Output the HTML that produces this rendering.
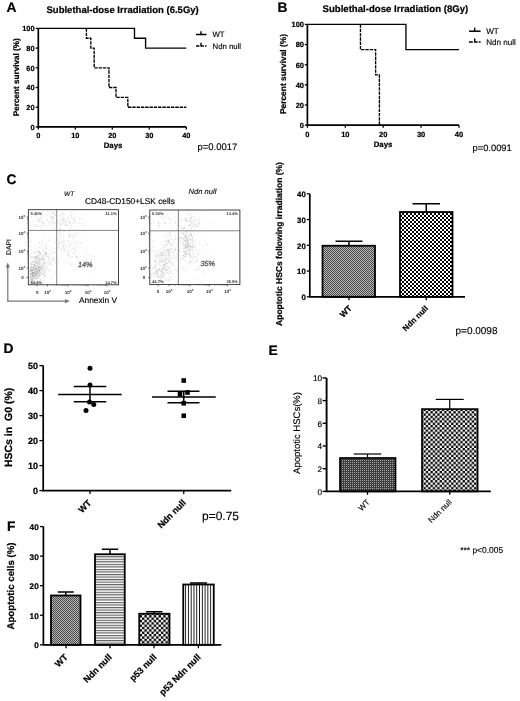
<!DOCTYPE html>
<html><head><meta charset="utf-8"><title>Figure</title>
<style>
html,body{margin:0;padding:0;background:#fff;}
body{width:520px;height:701px;overflow:hidden;font-family:"Liberation Sans", sans-serif;}
svg{display:block;font-family:"Liberation Sans", sans-serif;text-rendering:geometricPrecision;}
</style></head><body>
<svg width="520" height="701" viewBox="0 0 520 701">
<rect width="520" height="701" fill="#fff"/>
<defs>
<filter id="soft" x="0" y="0" width="520" height="701" filterUnits="userSpaceOnUse" color-interpolation-filters="sRGB"><feGaussianBlur stdDeviation="0.35"/></filter>
<pattern id="fine" width="2" height="2" patternUnits="userSpaceOnUse"><rect width="2" height="2" fill="#b4b4b4"/><rect x="0" y="0" width="1" height="1" fill="#4c4c4c"/><rect x="1" y="1" width="1" height="1" fill="#4c4c4c"/></pattern>
<pattern id="fineF" width="2" height="2" patternUnits="userSpaceOnUse"><rect width="2" height="2" fill="#e6e6e6"/><rect x="0" y="0" width="1" height="1" fill="#000"/><rect x="1" y="1" width="1" height="1" fill="#000"/></pattern>
<pattern id="chkC" x="402" y="215" width="4.0" height="4.0" patternUnits="userSpaceOnUse"><rect width="4.0" height="4.0" fill="#000"/><rect x="0.000" y="0.000" width="2.000" height="2.000" fill="#fff"/><rect x="2.000" y="2.000" width="2.000" height="2.000" fill="#fff"/></pattern>
<pattern id="chkE" x="423.55" y="411.15" width="4.6" height="4.6" patternUnits="userSpaceOnUse"><rect width="4.6" height="4.6" fill="#000"/><rect x="0.000" y="0.000" width="2.300" height="2.300" fill="#fff"/><rect x="2.300" y="2.300" width="2.300" height="2.300" fill="#fff"/></pattern>
<pattern id="chkF" x="142.0" y="615.1" width="4.73" height="4.73" patternUnits="userSpaceOnUse"><rect width="4.73" height="4.73" fill="#000"/><rect x="0.000" y="0.000" width="2.365" height="2.365" fill="#fff"/><rect x="2.365" y="2.365" width="2.365" height="2.365" fill="#fff"/></pattern>
<pattern id="grid" width="2" height="2" patternUnits="userSpaceOnUse"><rect width="2" height="2" fill="#3c3c3c"/><rect x="0" y="0" width="1" height="1" fill="#a8a8a8"/></pattern>
<pattern id="hl" x="0" y="556.2" width="2.54" height="2.54" patternUnits="userSpaceOnUse"><rect width="2.54" height="2.54" fill="#fff"/><rect x="0" y="0" width="2.54" height="0.75" fill="#383838"/><rect x="0" y="0.75" width="2.54" height="0.9" fill="#c4c4c4"/></pattern>
<pattern id="vl" x="183.3" y="0" width="2.78" height="2.78" patternUnits="userSpaceOnUse"><rect width="2.78" height="2.78" fill="#fff"/><rect x="1.9" y="0" width="0.85" height="2.78" fill="#000"/></pattern>
<filter id="soft2" x="0" y="0" width="520" height="701" filterUnits="userSpaceOnUse" color-interpolation-filters="sRGB"><feGaussianBlur stdDeviation="0.18"/></filter>
</defs>
<g filter="url(#soft2)">
<rect x="322.5" y="245.75" width="52.5" height="51.05000000000001" fill="url(#fine)" stroke="#000" stroke-width="1.8"/>
<rect x="400" y="212" width="52.5" height="84.80000000000001" fill="url(#chkC)" stroke="#000" stroke-width="1.8"/>
<rect x="340" y="458" width="55.5" height="33.39999999999998" fill="url(#grid)" stroke="#000" stroke-width="1.7"/>
<rect x="422" y="409.1" width="55.60000000000002" height="82.29999999999995" fill="url(#chkE)" stroke="#000" stroke-width="1.7"/>
<rect x="51" y="595.5" width="29.5" height="49.299999999999955" fill="url(#fine)" stroke="#000" stroke-width="1.8"/>
<rect x="95" y="554.25" width="29.75" height="90.54999999999995" fill="url(#hl)" stroke="#000" stroke-width="1.8"/>
<rect x="139.25" y="613.75" width="30.25" height="31.049999999999955" fill="url(#chkF)" stroke="#000" stroke-width="1.8"/>
<rect x="183.25" y="584.5" width="30.5" height="60.299999999999955" fill="url(#vl)" stroke="#000" stroke-width="1.8"/>
</g>
<g filter="url(#soft)">
<text x="6.6" y="12.3" font-size="13.8" font-weight="bold" text-anchor="start" fill="#000" stroke="#000" stroke-width="0.22">A</text>
<text x="46.5" y="12.6" font-size="9.53" font-weight="bold" text-anchor="start" fill="#000" stroke="#000" stroke-width="0.22">Sublethal-dose Irradiation (6.5Gy)</text>
<path d="M38.3,28.4 V126.9 H186.3" fill="none" stroke="#000" stroke-width="1.7"/>
<line x1="35.699999999999996" y1="126.9" x2="38.3" y2="126.9" stroke="#000" stroke-width="1.3"/>
<text x="34.599999999999994" y="129.6" font-size="7.4" font-weight="bold" text-anchor="end" fill="#000" stroke="#000" stroke-width="0.22">0</text>
<line x1="35.699999999999996" y1="107.2" x2="38.3" y2="107.2" stroke="#000" stroke-width="1.3"/>
<text x="34.599999999999994" y="109.9" font-size="7.4" font-weight="bold" text-anchor="end" fill="#000" stroke="#000" stroke-width="0.22">20</text>
<line x1="35.699999999999996" y1="87.5" x2="38.3" y2="87.5" stroke="#000" stroke-width="1.3"/>
<text x="34.599999999999994" y="90.2" font-size="7.4" font-weight="bold" text-anchor="end" fill="#000" stroke="#000" stroke-width="0.22">40</text>
<line x1="35.699999999999996" y1="67.8" x2="38.3" y2="67.8" stroke="#000" stroke-width="1.3"/>
<text x="34.599999999999994" y="70.5" font-size="7.4" font-weight="bold" text-anchor="end" fill="#000" stroke="#000" stroke-width="0.22">60</text>
<line x1="35.699999999999996" y1="48.1" x2="38.3" y2="48.1" stroke="#000" stroke-width="1.3"/>
<text x="34.599999999999994" y="50.800000000000004" font-size="7.4" font-weight="bold" text-anchor="end" fill="#000" stroke="#000" stroke-width="0.22">80</text>
<line x1="35.699999999999996" y1="28.4" x2="38.3" y2="28.4" stroke="#000" stroke-width="1.3"/>
<text x="34.599999999999994" y="31.099999999999998" font-size="7.4" font-weight="bold" text-anchor="end" fill="#000" stroke="#000" stroke-width="0.22">100</text>
<line x1="38.3" y1="126.9" x2="38.3" y2="129.5" stroke="#000" stroke-width="1.3"/>
<text x="38.3" y="138.1" font-size="7.4" font-weight="bold" text-anchor="middle" fill="#000" stroke="#000" stroke-width="0.22">0</text>
<line x1="75.3" y1="126.9" x2="75.3" y2="129.5" stroke="#000" stroke-width="1.3"/>
<text x="75.3" y="138.1" font-size="7.4" font-weight="bold" text-anchor="middle" fill="#000" stroke="#000" stroke-width="0.22">10</text>
<line x1="112.3" y1="126.9" x2="112.3" y2="129.5" stroke="#000" stroke-width="1.3"/>
<text x="112.3" y="138.1" font-size="7.4" font-weight="bold" text-anchor="middle" fill="#000" stroke="#000" stroke-width="0.22">20</text>
<line x1="149.3" y1="126.9" x2="149.3" y2="129.5" stroke="#000" stroke-width="1.3"/>
<text x="149.3" y="138.1" font-size="7.4" font-weight="bold" text-anchor="middle" fill="#000" stroke="#000" stroke-width="0.22">30</text>
<line x1="186.3" y1="126.9" x2="186.3" y2="129.5" stroke="#000" stroke-width="1.3"/>
<text x="186.3" y="138.1" font-size="7.4" font-weight="bold" text-anchor="middle" fill="#000" stroke="#000" stroke-width="0.22">40</text>
<text x="113" y="147.6" font-size="7.8" font-weight="bold" text-anchor="middle" fill="#000" stroke="#000" stroke-width="0.22">Days</text>
<text x="19.3" y="77.2" font-size="8.16" font-weight="bold" text-anchor="middle" fill="#000" stroke="#000" stroke-width="0.22" transform="rotate(-90 19.3 77.2)">Percent survival (%)</text>
<path d="M38.3,28.4 H134.5 V38.25 H145.6 V48.1 H186.3" fill="none" stroke="#000" stroke-width="1.35"/>
<path d="M86.4,28.4 V38.25 H90.84 V48.1 H94.17 V67.8 H108.97 V87.5 H116.0 V97.35 H127.84 V107.2 H186.3" fill="none" stroke="#000" stroke-width="1.35" stroke-dasharray="3.4,0.9"/>
<line x1="196" y1="34.5" x2="206.5" y2="34.5" stroke="#000" stroke-width="1.5"/>
<line x1="201" y1="34.5" x2="201" y2="31.3" stroke="#000" stroke-width="1.4"/>
<line x1="196" y1="46" x2="206.5" y2="46" stroke="#000" stroke-width="1.5" stroke-dasharray="3.4,1.1"/>
<line x1="201" y1="46" x2="201" y2="42.8" stroke="#000" stroke-width="1.4"/>
<text x="212.5" y="37.3" font-size="7.8" font-weight="normal" text-anchor="start" fill="#000" stroke="#000" stroke-width="0.15">WT</text>
<text x="212.5" y="48.8" font-size="7.8" font-weight="normal" text-anchor="start" fill="#000" stroke="#000" stroke-width="0.15">Ndn null</text>
<text x="197.5" y="149.5" font-size="9.5" font-weight="normal" text-anchor="start" fill="#000" stroke="#000" stroke-width="0.15">p=0.0017</text>
<text x="277.4" y="12.3" font-size="13.8" font-weight="bold" text-anchor="start" fill="#000" stroke="#000" stroke-width="0.22">B</text>
<text x="322.5" y="12.3" font-size="9.62" font-weight="bold" text-anchor="start" fill="#000" stroke="#000" stroke-width="0.22">Sublethal-dose Irradiation (8Gy)</text>
<path d="M307.4,24.4 V125.2 H459.0" fill="none" stroke="#000" stroke-width="1.7"/>
<line x1="304.79999999999995" y1="125.2" x2="307.4" y2="125.2" stroke="#000" stroke-width="1.3"/>
<text x="304.0" y="128.1" font-size="7.5" font-weight="bold" text-anchor="end" fill="#000" stroke="#000" stroke-width="0.22">0</text>
<line x1="304.79999999999995" y1="105.04" x2="307.4" y2="105.04" stroke="#000" stroke-width="1.3"/>
<text x="304.0" y="107.94000000000001" font-size="7.5" font-weight="bold" text-anchor="end" fill="#000" stroke="#000" stroke-width="0.22">20</text>
<line x1="304.79999999999995" y1="84.88" x2="307.4" y2="84.88" stroke="#000" stroke-width="1.3"/>
<text x="304.0" y="87.78" font-size="7.5" font-weight="bold" text-anchor="end" fill="#000" stroke="#000" stroke-width="0.22">40</text>
<line x1="304.79999999999995" y1="64.72" x2="307.4" y2="64.72" stroke="#000" stroke-width="1.3"/>
<text x="304.0" y="67.62" font-size="7.5" font-weight="bold" text-anchor="end" fill="#000" stroke="#000" stroke-width="0.22">60</text>
<line x1="304.79999999999995" y1="44.56" x2="307.4" y2="44.56" stroke="#000" stroke-width="1.3"/>
<text x="304.0" y="47.46" font-size="7.5" font-weight="bold" text-anchor="end" fill="#000" stroke="#000" stroke-width="0.22">80</text>
<line x1="304.79999999999995" y1="24.4" x2="307.4" y2="24.4" stroke="#000" stroke-width="1.3"/>
<text x="304.0" y="27.299999999999997" font-size="7.5" font-weight="bold" text-anchor="end" fill="#000" stroke="#000" stroke-width="0.22">100</text>
<line x1="307.4" y1="125.2" x2="307.4" y2="127.8" stroke="#000" stroke-width="1.3"/>
<text x="307.4" y="136.6" font-size="7.5" font-weight="bold" text-anchor="middle" fill="#000" stroke="#000" stroke-width="0.22">0</text>
<line x1="345.3" y1="125.2" x2="345.3" y2="127.8" stroke="#000" stroke-width="1.3"/>
<text x="345.3" y="136.6" font-size="7.5" font-weight="bold" text-anchor="middle" fill="#000" stroke="#000" stroke-width="0.22">10</text>
<line x1="383.2" y1="125.2" x2="383.2" y2="127.8" stroke="#000" stroke-width="1.3"/>
<text x="383.2" y="136.6" font-size="7.5" font-weight="bold" text-anchor="middle" fill="#000" stroke="#000" stroke-width="0.22">20</text>
<line x1="421.1" y1="125.2" x2="421.1" y2="127.8" stroke="#000" stroke-width="1.3"/>
<text x="421.1" y="136.6" font-size="7.5" font-weight="bold" text-anchor="middle" fill="#000" stroke="#000" stroke-width="0.22">30</text>
<line x1="459.0" y1="125.2" x2="459.0" y2="127.8" stroke="#000" stroke-width="1.3"/>
<text x="459.0" y="136.6" font-size="7.5" font-weight="bold" text-anchor="middle" fill="#000" stroke="#000" stroke-width="0.22">40</text>
<text x="383" y="146.5" font-size="7.8" font-weight="bold" text-anchor="middle" fill="#000" stroke="#000" stroke-width="0.22">Days</text>
<text x="286.4" y="74" font-size="8.4" font-weight="bold" text-anchor="middle" fill="#000" stroke="#000" stroke-width="0.22" transform="rotate(-90 286.4 74)">Percent survival (%)</text>
<path d="M307.4,24.4 H405.94 V49.6 H459.0" fill="none" stroke="#000" stroke-width="1.35"/>
<path d="M360.46,24.4 V49.6 H375.62 V74.8 H379.41 V125.2" fill="none" stroke="#000" stroke-width="1.35" stroke-dasharray="3.4,0.9"/>
<line x1="469" y1="31.2" x2="480.6" y2="31.2" stroke="#000" stroke-width="1.5"/>
<line x1="474.7" y1="31.2" x2="474.7" y2="27.8" stroke="#000" stroke-width="1.4"/>
<line x1="469" y1="42" x2="480.6" y2="42" stroke="#000" stroke-width="1.5" stroke-dasharray="3.8,1.1"/>
<line x1="474.7" y1="42" x2="474.7" y2="38.6" stroke="#000" stroke-width="1.4"/>
<text x="486.2" y="34" font-size="8.1" font-weight="normal" text-anchor="start" fill="#000" stroke="#000" stroke-width="0.15">WT</text>
<text x="486.2" y="44.8" font-size="8.1" font-weight="normal" text-anchor="start" fill="#000" stroke="#000" stroke-width="0.15">Ndn null</text>
<text x="472.5" y="150.8" font-size="9.35" font-weight="normal" text-anchor="start" fill="#000" stroke="#000" stroke-width="0.15">p=0.0091</text>
<text x="6.6" y="184.0" font-size="13.8" font-weight="bold" text-anchor="start" fill="#000" stroke="#000" stroke-width="0.22">C</text>
<text x="64" y="195.5" font-size="6.5" font-weight="normal" text-anchor="start" fill="#111" font-style="italic" stroke="#111" stroke-width="0.15">WT</text>
<text x="188.5" y="193.5" font-size="7.6" font-weight="normal" text-anchor="start" fill="#111" font-style="italic" stroke="#111" stroke-width="0.15">Ndn null</text>
<text x="85" y="204" font-size="8.37" font-weight="normal" text-anchor="start" fill="#000" stroke="#000" stroke-width="0.15">CD48-CD150+LSK cells</text>
<text x="79.0" y="302.5" font-size="8.33" font-weight="normal" text-anchor="start" fill="#000" stroke="#000" stroke-width="0.15">Annexin V</text>
<text x="10.9" y="247" font-size="6.8" font-weight="normal" text-anchor="middle" fill="#111" stroke="#111" stroke-width="0.15" transform="rotate(-90 10.9 247)">DAPI</text>
<path d="M7.8,301.2 V266" fill="none" stroke="#777" stroke-width="1.2"/>
<path d="M7.8,262.6 L5.7,267.4 L9.9,267.4 Z" fill="#777"/>
<path d="M7.2,301.2 H66" fill="none" stroke="#777" stroke-width="1.2"/>
<path d="M69.8,301.2 L65,299.1 L65,303.3 Z" fill="#777"/>
<rect x="28.3" y="209.7" width="90.2" height="75.10000000000002" fill="#fff" stroke="#222" stroke-width="0.85"/>
<line x1="56.7" y1="209.7" x2="56.7" y2="284.8" stroke="#222" stroke-width="0.55"/>
<line x1="28.3" y1="230.4" x2="118.5" y2="230.4" stroke="#222" stroke-width="0.55"/>
<path d="M34.7,272.1h.7M34.9,265.5h.7M31.3,266.3h.7M41.6,271.4h.7M41.2,270.0h.7M38.0,269.5h.7M38.5,272.0h.7M31.6,264.3h.7M37.5,267.6h.7M38.6,262.9h.7M37.5,271.2h.7M32.7,281.7h.7M38.8,277.6h.7M32.9,262.1h.7M34.3,267.1h.7M39.2,270.0h.7M33.8,260.3h.7M33.4,277.8h.7M32.0,270.0h.7M38.1,256.1h.7M36.2,278.4h.7M35.5,261.5h.7M38.5,267.5h.7M39.3,275.6h.7M43.2,270.9h.7M36.6,257.6h.7M39.1,263.1h.7M33.7,257.9h.7M31.2,263.8h.7M42.4,251.7h.7M43.2,272.6h.7M37.8,262.1h.7M30.4,275.8h.7M41.5,269.3h.7M37.2,271.5h.7M44.0,273.0h.7M38.6,272.4h.7M40.8,272.2h.7M40.2,253.5h.7M35.1,276.2h.7M29.4,280.9h.7M38.8,266.8h.7M37.6,273.2h.7M36.6,277.2h.7M32.7,264.7h.7M41.2,268.2h.7M31.6,275.6h.7M43.3,264.4h.7M35.3,265.6h.7M43.0,259.8h.7M42.3,257.9h.7M32.1,273.1h.7M41.6,274.9h.7M37.7,269.1h.7M36.8,272.6h.7M35.1,270.2h.7M38.9,268.0h.7M39.8,272.5h.7M46.1,270.6h.7M33.9,265.0h.7M35.9,275.4h.7M34.3,271.1h.7M45.2,247.5h.7M30.4,270.0h.7M38.0,269.9h.7M33.8,273.2h.7M37.4,263.8h.7M48.2,270.8h.7M33.2,267.2h.7M34.9,267.5h.7M41.0,258.7h.7M35.7,275.6h.7M40.3,279.9h.7M34.3,273.0h.7M41.5,246.5h.7M41.4,256.4h.7M39.4,256.1h.7M36.9,277.6h.7M35.3,269.5h.7M40.0,269.1h.7M35.6,280.3h.7M41.2,265.6h.7M49.7,258.8h.7M40.6,265.9h.7M36.7,273.6h.7M37.1,273.1h.7M39.1,260.3h.7M30.9,256.2h.7M42.3,274.0h.7M43.4,260.5h.7M36.0,258.9h.7M39.8,280.7h.7M31.5,280.5h.7M40.9,266.6h.7M35.5,263.2h.7M38.0,271.3h.7M43.5,259.8h.7M41.7,279.9h.7M43.3,266.6h.7M32.3,276.1h.7M36.6,269.0h.7M43.1,265.9h.7M37.6,263.1h.7M36.0,274.7h.7M36.4,278.6h.7M35.7,276.3h.7M43.5,280.9h.7M32.6,275.0h.7M29.8,267.9h.7M35.0,267.8h.7M33.0,269.9h.7M45.0,268.4h.7M38.7,276.0h.7M35.0,257.9h.7M33.2,276.6h.7M41.0,274.3h.7M36.0,274.4h.7M36.8,258.6h.7M40.6,263.5h.7M31.5,261.8h.7M30.1,270.9h.7M32.8,252.5h.7M39.6,265.8h.7M37.5,264.3h.7M39.9,274.0h.7M39.3,270.6h.7M42.7,273.3h.7M38.3,251.3h.7M40.5,278.5h.7M34.5,264.2h.7M45.7,253.9h.7M31.4,273.5h.7M45.4,267.0h.7M38.8,275.2h.7M31.5,267.3h.7M37.5,274.6h.7M35.8,266.4h.7M30.9,265.1h.7M40.5,268.8h.7M31.7,261.3h.7M49.3,277.1h.7M39.2,247.3h.7M39.1,271.8h.7M44.4,271.4h.7M35.7,272.2h.7M37.6,262.4h.7M42.6,282.5h.7M37.5,269.5h.7M34.0,260.2h.7M46.6,276.3h.7M30.0,257.2h.7M44.5,275.9h.7M45.1,274.5h.7M31.6,270.1h.7M35.7,272.2h.7M32.4,267.0h.7M38.3,271.0h.7M39.2,269.7h.7M34.4,274.3h.7M36.2,261.4h.7M32.9,268.0h.7M35.5,269.3h.7M36.0,269.4h.7M35.3,257.9h.7M38.1,276.4h.7M38.2,266.5h.7M38.2,260.3h.7M31.3,273.9h.7M30.6,247.0h.7M30.8,280.6h.7M34.1,257.0h.7M32.2,272.2h.7M38.5,269.4h.7M43.4,273.7h.7M35.9,272.8h.7M44.3,275.8h.7M41.1,259.3h.7M35.3,273.8h.7M34.5,276.6h.7M39.0,275.3h.7M42.2,266.3h.7M34.3,275.0h.7M40.9,268.1h.7M30.2,269.5h.7M37.8,277.0h.7M39.9,268.2h.7M40.3,272.3h.7M37.0,268.4h.7M34.8,273.5h.7M30.7,263.0h.7M36.0,256.3h.7M33.8,251.9h.7M32.6,272.5h.7M38.8,267.6h.7M34.8,256.7h.7M45.1,272.1h.7M41.5,260.9h.7M35.1,253.4h.7M39.9,275.5h.7M39.2,253.9h.7M32.9,256.8h.7M36.2,270.0h.7M39.2,273.6h.7M43.5,277.3h.7M29.4,264.0h.7M30.7,259.4h.7M35.6,268.0h.7M38.5,255.3h.7M29.8,267.8h.7M35.0,265.5h.7M35.7,261.9h.7M39.5,270.8h.7M35.6,262.6h.7M35.1,246.2h.7M31.1,268.3h.7M36.7,257.0h.7M34.7,265.5h.7M38.3,272.9h.7M35.8,261.2h.7M35.3,267.5h.7M39.7,270.4h.7M32.4,257.2h.7M34.1,262.1h.7M30.4,267.1h.7M33.5,268.8h.7M38.6,264.7h.7M47.6,265.4h.7M41.5,269.0h.7M41.6,249.0h.7M32.2,270.0h.7M37.6,278.2h.7M39.8,275.6h.7M38.6,266.8h.7M38.5,259.4h.7M41.9,259.9h.7M34.9,268.2h.7M41.8,268.2h.7M32.0,270.1h.7M38.9,273.7h.7M32.1,282.0h.7M44.3,268.1h.7M37.3,264.6h.7M43.1,262.4h.7M39.4,264.2h.7M32.5,273.7h.7M42.7,267.9h.7M32.6,274.5h.7M35.8,270.5h.7M43.6,277.1h.7M36.0,274.3h.7M32.8,267.6h.7M42.8,258.3h.7M41.9,264.3h.7M35.7,265.5h.7M35.4,259.3h.7M36.1,256.5h.7M35.6,270.5h.7M38.3,266.1h.7M31.5,269.3h.7M33.6,280.5h.7M39.8,267.1h.7M33.6,262.4h.7M31.3,265.2h.7M37.5,272.1h.7M32.5,268.1h.7M50.0,253.1h.7M33.4,269.4h.7M36.8,271.3h.7M34.8,270.9h.7M36.3,274.2h.7M36.0,259.7h.7M30.8,273.0h.7M32.8,273.1h.7M39.7,270.5h.7M38.5,267.2h.7M38.3,263.8h.7M35.5,274.0h.7M31.6,273.1h.7M45.3,263.6h.7M36.7,266.8h.7M43.7,270.5h.7M40.5,262.5h.7M35.9,267.9h.7M40.5,254.0h.7M39.7,267.0h.7M38.2,270.9h.7M43.5,263.4h.7M30.9,257.1h.7M37.1,276.6h.7M30.4,270.0h.7M33.6,277.3h.7M32.9,275.5h.7M30.4,276.8h.7M31.6,273.5h.7M30.9,280.3h.7M36.2,271.8h.7M34.5,269.5h.7M32.2,278.5h.7M36.5,271.7h.7M31.8,275.2h.7M30.0,276.2h.7M32.1,275.6h.7M30.4,279.3h.7M31.2,270.4h.7M33.4,264.6h.7M30.0,273.9h.7M34.5,273.0h.7M32.9,270.1h.7M30.1,274.1h.7M32.5,280.1h.7M33.8,278.8h.7M32.6,275.5h.7M34.8,276.2h.7M37.0,266.6h.7M30.9,253.3h.7M34.4,271.8h.7M32.0,272.5h.7M30.5,269.0h.7M30.1,277.8h.7M32.1,274.4h.7M31.5,279.5h.7M33.5,273.1h.7M34.0,273.1h.7M33.4,268.3h.7M35.2,276.1h.7M33.0,279.3h.7M32.6,273.1h.7M32.1,272.3h.7M33.1,274.5h.7M34.0,271.8h.7M31.9,261.2h.7M30.7,278.1h.7M36.0,271.8h.7M31.6,283.5h.7M31.0,278.4h.7M37.0,274.2h.7M35.7,269.7h.7M32.6,273.5h.7M32.3,280.8h.7M39.2,270.0h.7M30.3,277.0h.7M33.7,272.3h.7M33.6,264.7h.7M34.3,264.7h.7M29.9,270.7h.7M30.8,279.2h.7M32.2,271.6h.7M33.6,283.5h.7M32.0,276.2h.7M35.7,275.6h.7M38.6,262.1h.7M31.9,276.5h.7M34.9,278.0h.7M31.2,267.7h.7M32.3,280.2h.7M31.9,262.4h.7M31.2,271.4h.7M33.4,269.8h.7M29.4,271.6h.7M31.9,270.0h.7M32.0,278.5h.7M29.6,271.5h.7M29.8,273.8h.7M33.6,265.8h.7M33.4,273.8h.7M35.6,262.8h.7M34.4,275.3h.7M33.4,276.6h.7M35.9,272.7h.7M34.6,271.5h.7M34.2,269.1h.7M33.3,273.1h.7M32.6,279.6h.7M33.3,277.1h.7M31.9,282.1h.7M30.8,270.7h.7M34.7,274.4h.7M31.2,270.5h.7M31.2,277.7h.7M33.1,266.7h.7M33.3,275.1h.7M31.2,272.0h.7M34.4,281.9h.7M29.9,276.6h.7M30.5,281.2h.7M30.1,278.9h.7M38.7,258.8h.7M30.7,277.0h.7M31.7,270.0h.7M38.5,274.5h.7M30.3,274.9h.7M35.8,274.7h.7M35.5,278.4h.7M29.6,279.2h.7M33.5,277.9h.7M34.7,278.4h.7M34.6,259.3h.7M32.5,277.0h.7M39.7,268.3h.7M31.0,274.2h.7M50.2,254.5h.7M52.0,251.7h.7M45.9,253.8h.7M45.1,252.5h.7M32.8,266.7h.7M46.1,253.5h.7M45.4,265.9h.7M37.2,257.1h.7M47.8,262.2h.7M41.7,241.1h.7M52.7,260.6h.7M44.1,255.8h.7M45.8,254.6h.7M36.8,252.1h.7M39.8,253.1h.7M35.9,263.1h.7M34.8,263.3h.7M36.9,260.8h.7M53.6,259.6h.7M38.9,258.4h.7M45.0,244.1h.7M39.7,259.3h.7M40.7,258.6h.7M49.1,264.1h.7M50.3,262.7h.7M42.0,257.9h.7M42.1,255.5h.7M42.7,244.2h.7M41.7,257.8h.7M37.2,257.8h.7M47.6,256.7h.7M58.5,237.1h.7M42.6,243.4h.7M50.9,279.2h.7M47.6,255.6h.7M47.9,240.1h.7M50.0,261.0h.7M44.2,253.3h.7M48.5,254.1h.7M45.6,253.9h.7M45.4,264.0h.7M37.9,257.7h.7M48.3,259.2h.7M52.7,273.9h.7M37.6,242.6h.7M50.0,270.2h.7M50.5,264.5h.7M39.7,252.3h.7M50.2,250.7h.7M31.3,250.0h.7M61.4,273.4h.7M39.2,252.2h.7M45.6,252.0h.7M53.2,257.4h.7M36.4,268.5h.7M39.9,259.8h.7M43.9,255.5h.7M46.3,252.5h.7M31.1,240.3h.7M35.1,251.9h.7M43.8,258.4h.7M47.9,259.0h.7M38.4,252.3h.7M47.4,262.2h.7M43.2,256.6h.7M50.6,258.1h.7M49.2,262.7h.7M45.5,268.5h.7M40.0,255.1h.7M38.3,251.6h.7M54.9,272.1h.7M44.2,262.5h.7M52.2,264.5h.7M52.4,247.9h.7M39.5,261.6h.7M54.0,258.8h.7M38.0,255.2h.7M39.4,251.1h.7M54.5,253.0h.7M44.1,275.3h.7M52.3,260.7h.7M39.7,261.3h.7M55.4,263.0h.7M52.8,258.8h.7M47.6,256.4h.7M47.0,268.4h.7M34.0,257.5h.7M45.7,253.4h.7M41.8,264.3h.7M58.0,263.0h.7M46.3,245.6h.7M57.5,258.6h.7M43.8,249.1h.7M43.6,249.2h.7M44.5,261.7h.7M44.2,260.2h.7M38.0,269.4h.7M39.4,243.5h.7M42.7,251.9h.7M36.9,255.2h.7M46.0,248.5h.7M43.0,269.4h.7M48.8,256.8h.7M44.9,257.0h.7M43.7,263.9h.7M43.4,238.8h.7M43.8,250.9h.7M67.8,217.6h.7M61.8,228.7h.7M47.4,215.5h.7M37.5,221.5h.7M52.3,212.5h.7M42.2,222.5h.7M50.7,218.5h.7M64.0,225.4h.7M83.3,224.1h.7M61.7,220.7h.7M81.6,225.7h.7M56.3,221.8h.7M63.4,220.2h.7M54.0,214.7h.7M53.6,213.8h.7M74.7,222.1h.7M45.5,225.6h.7M70.7,212.4h.7M82.1,223.2h.7M84.8,215.1h.7M66.4,221.7h.7M62.4,220.7h.7M72.6,214.0h.7M45.1,214.4h.7M53.3,217.6h.7M64.4,221.1h.7M60.4,217.3h.7M54.7,223.8h.7M69.2,220.4h.7M56.1,226.2h.7M52.9,222.6h.7M73.8,218.9h.7M69.9,215.5h.7M72.2,220.8h.7M41.0,222.7h.7M49.3,225.1h.7M51.9,219.3h.7M63.4,218.7h.7M63.1,217.8h.7M68.1,220.0h.7M73.9,220.1h.7M38.6,220.4h.7M65.6,224.3h.7M47.0,226.2h.7M58.1,229.6h.7M58.2,222.7h.7M55.6,215.5h.7M73.2,223.6h.7M78.5,223.4h.7M53.1,213.4h.7M52.2,217.3h.7M50.2,222.3h.7M63.9,218.9h.7M62.1,219.4h.7M62.6,223.0h.7M71.5,217.3h.7M41.9,225.7h.7M61.4,224.4h.7M40.3,218.7h.7M60.3,214.2h.7M53.8,222.9h.7M72.9,226.4h.7M49.6,214.4h.7M66.2,223.8h.7M62.3,214.8h.7M69.4,223.2h.7M66.6,218.1h.7M63.6,223.2h.7M53.3,212.6h.7M63.9,221.9h.7M60.2,223.6h.7M53.0,219.7h.7M56.3,222.3h.7M79.1,219.0h.7M84.7,226.1h.7M69.5,222.3h.7M81.2,219.3h.7M58.7,215.7h.7M65.7,225.4h.7M66.4,221.7h.7M57.6,220.7h.7M42.9,224.2h.7M55.1,215.6h.7M51.0,216.7h.7M70.3,224.2h.7M43.7,223.7h.7M70.7,217.7h.7M42.2,217.0h.7M52.4,221.4h.7M55.7,211.9h.7M62.8,213.9h.7M70.9,215.2h.7M51.7,216.6h.7M53.5,225.2h.7M70.2,222.4h.7M63.8,213.8h.7M53.8,217.8h.7M48.3,222.0h.7M51.1,217.2h.7M47.5,211.8h.7M67.1,225.3h.7M62.1,216.1h.7M74.6,221.2h.7M71.1,225.9h.7M73.5,218.2h.7M72.6,223.1h.7M41.6,218.4h.7M57.5,241.1h.7M69.5,233.5h.7M53.7,252.4h.7M68.3,253.8h.7M58.1,250.5h.7M78.4,258.1h.7M64.7,244.2h.7M65.1,250.0h.7M72.2,242.7h.7M57.8,247.9h.7M63.2,247.0h.7M67.6,255.0h.7M72.8,238.4h.7M68.1,256.1h.7M62.8,245.5h.7M73.1,252.1h.7M69.1,231.4h.7M58.4,244.0h.7M68.3,262.4h.7M60.8,251.1h.7M70.6,228.6h.7M61.1,243.3h.7M63.0,240.8h.7M68.8,235.5h.7M68.8,236.9h.7M62.7,246.3h.7M62.6,244.3h.7M75.6,242.2h.7M65.1,247.9h.7M63.8,250.7h.7M58.3,246.9h.7M62.9,235.6h.7M76.6,235.2h.7M76.5,247.3h.7M74.7,234.2h.7M73.2,253.7h.7M65.3,241.0h.7M80.7,243.4h.7M63.5,237.0h.7M68.7,244.6h.7M67.1,255.8h.7M64.0,245.8h.7M74.8,234.0h.7M72.2,256.7h.7M57.9,233.2h.7M59.8,227.2h.7M68.7,227.2h.7M69.0,253.6h.7M56.3,239.5h.7M54.5,248.2h.7M61.6,239.9h.7M66.3,246.4h.7M63.9,242.1h.7M62.7,242.9h.7M59.0,242.5h.7M54.4,238.1h.7M77.5,242.6h.7M58.4,244.1h.7M60.2,228.8h.7M61.6,247.9h.7M68.3,241.2h.7M60.4,233.4h.7M74.1,244.0h.7M60.3,225.1h.7M57.8,261.8h.7M59.1,241.4h.7M67.3,240.7h.7M64.3,231.0h.7M59.7,255.5h.7M61.5,248.8h.7M55.8,239.8h.7M67.6,250.3h.7M59.3,246.8h.7M68.3,236.1h.7M68.9,234.8h.7M61.2,241.8h.7M49.7,241.1h.7M60.0,230.3h.7M63.4,248.1h.7M63.6,252.1h.7M59.0,231.5h.7M75.3,245.2h.7M71.7,235.4h.7M70.8,244.1h.7M69.9,242.2h.7M73.2,236.8h.7M60.2,230.2h.7M73.0,236.1h.7M59.7,234.5h.7M63.3,231.8h.7M72.1,248.7h.7M69.5,245.4h.7M75.4,250.4h.7M76.1,257.5h.7M78.4,233.1h.7M69.6,247.0h.7M82.7,239.2h.7M67.9,252.1h.7M71.6,264.9h.7M70.6,264.6h.7M60.3,236.9h.7M87.2,259.4h.7M79.9,256.2h.7M79.8,242.8h.7M84.5,249.7h.7M84.9,255.9h.7M55.3,242.1h.7M86.3,253.6h.7M71.0,257.4h.7M70.7,249.6h.7M76.0,256.4h.7M90.2,255.5h.7M93.8,273.0h.7M92.2,265.6h.7M76.3,256.4h.7M73.6,247.7h.7M74.3,248.6h.7M91.4,260.3h.7M70.5,235.8h.7M74.5,250.8h.7M36.3,217.5h.7M44.5,232.3h.7M44.8,221.4h.7M56.6,222.5h.7M46.3,220.5h.7M40.2,228.0h.7M53.0,228.9h.7M42.2,222.1h.7M38.0,225.9h.7M33.9,224.3h.7M53.8,227.6h.7M37.5,226.4h.7M39.3,219.0h.7M34.4,226.6h.7M58.2,219.6h.7M38.9,220.6h.7M65.1,226.0h.7M40.7,214.8h.7M39.6,226.7h.7M59.9,220.9h.7M39.5,220.0h.7M29.9,225.6h.7M36.3,226.3h.7M31.3,216.9h.7M47.3,218.9h.7M51.3,222.0h.7M35.6,224.5h.7M51.7,214.3h.7M59.6,224.0h.7M34.0,283.1h.7M35.3,283.5h.7" stroke="#777" stroke-width="0.7" fill="none" opacity="0.5"/>
<text x="78" y="267.1" font-size="7.3" font-weight="normal" text-anchor="start" fill="#555" font-style="italic" stroke="#555" stroke-width="0.28">14%</text>
<text x="30.6" y="214.7" font-size="4.0" font-weight="bold" text-anchor="start" fill="#333">9.40%</text>
<text x="116.5" y="214.7" font-size="4.0" font-weight="bold" text-anchor="end" fill="#333">11.1%</text>
<text x="30.6" y="283.5" font-size="4.0" font-weight="bold" text-anchor="start" fill="#333">64.8%</text>
<text x="116.5" y="283.5" font-size="4.0" font-weight="bold" text-anchor="end" fill="#333">14.7%</text>
<text x="37.2" y="293.6" font-size="4.5" font-weight="bold" text-anchor="middle" fill="#333">0</text>
<line x1="37.2" y1="284.8" x2="37.2" y2="286.40000000000003" stroke="#333" stroke-width="0.7"/>
<text x="47.5" y="293.6" font-size="4.5" font-weight="bold" text-anchor="middle" fill="#333">10<tspan dy="-2" font-size="3">2</tspan></text>
<line x1="47.5" y1="284.8" x2="47.5" y2="286.40000000000003" stroke="#333" stroke-width="0.7"/>
<text x="68" y="293.6" font-size="4.5" font-weight="bold" text-anchor="middle" fill="#333">10<tspan dy="-2" font-size="3">3</tspan></text>
<line x1="68" y1="284.8" x2="68" y2="286.40000000000003" stroke="#333" stroke-width="0.7"/>
<text x="88" y="293.6" font-size="4.5" font-weight="bold" text-anchor="middle" fill="#333">10<tspan dy="-2" font-size="3">4</tspan></text>
<line x1="88" y1="284.8" x2="88" y2="286.40000000000003" stroke="#333" stroke-width="0.7"/>
<text x="107" y="293.6" font-size="4.5" font-weight="bold" text-anchor="middle" fill="#333">10<tspan dy="-2" font-size="3">5</tspan></text>
<line x1="107" y1="284.8" x2="107" y2="286.40000000000003" stroke="#333" stroke-width="0.7"/>
<text x="25.1" y="218.9" font-size="4.5" font-weight="bold" text-anchor="end" fill="#333">10<tspan dy="-2" font-size="3">5</tspan></text>
<line x1="26.7" y1="217" x2="28.3" y2="217" stroke="#333" stroke-width="0.7"/>
<text x="25.1" y="234.9" font-size="4.5" font-weight="bold" text-anchor="end" fill="#333">10<tspan dy="-2" font-size="3">4</tspan></text>
<line x1="26.7" y1="233" x2="28.3" y2="233" stroke="#333" stroke-width="0.7"/>
<text x="25.1" y="252.9" font-size="4.5" font-weight="bold" text-anchor="end" fill="#333">10<tspan dy="-2" font-size="3">3</tspan></text>
<line x1="26.7" y1="251" x2="28.3" y2="251" stroke="#333" stroke-width="0.7"/>
<text x="25.1" y="269.9" font-size="4.5" font-weight="bold" text-anchor="end" fill="#333">10<tspan dy="-2" font-size="3">2</tspan></text>
<line x1="26.7" y1="268" x2="28.3" y2="268" stroke="#333" stroke-width="0.7"/>
<text x="23.8" y="279.4" font-size="4.5" font-weight="bold" text-anchor="end" fill="#333">0</text>
<line x1="26.7" y1="277.5" x2="28.3" y2="277.5" stroke="#333" stroke-width="0.7"/>
<path d="M53.7,284.8v1M57.3,284.8v1M59.8,284.8v1M61.8,284.8v1M63.5,284.8v1M64.8,284.8v1M66.0,284.8v1M67.1,284.8v1M74.0,284.8v1M77.5,284.8v1M80.0,284.8v1M82.0,284.8v1M83.6,284.8v1M84.9,284.8v1M86.1,284.8v1M87.1,284.8v1M93.7,284.8v1M97.1,284.8v1M99.4,284.8v1M101.3,284.8v1M102.8,284.8v1M104.1,284.8v1M105.2,284.8v1M106.1,284.8v1M28.3,228.2h-1M28.3,225.4h-1M28.3,223.4h-1M28.3,221.8h-1M28.3,220.5h-1M28.3,219.5h-1M28.3,218.6h-1M28.3,217.7h-1M28.3,245.6h-1M28.3,242.4h-1M28.3,240.2h-1M28.3,238.4h-1M28.3,237.0h-1M28.3,235.8h-1M28.3,234.7h-1M28.3,233.8h-1M28.3,262.9h-1M28.3,259.9h-1M28.3,257.8h-1M28.3,256.1h-1M28.3,254.8h-1M28.3,253.6h-1M28.3,252.6h-1M28.3,251.8h-1" stroke="#444" stroke-width="0.5" fill="none"/>
<rect x="149.8" y="210" width="90.1" height="74.60000000000002" fill="#fff" stroke="#222" stroke-width="0.85"/>
<line x1="178.4" y1="210" x2="178.4" y2="284.6" stroke="#222" stroke-width="0.55"/>
<line x1="149.8" y1="230.8" x2="239.9" y2="230.8" stroke="#222" stroke-width="0.55"/>
<path d="M156.1,269.6h.7M164.3,264.7h.7M169.8,261.8h.7M170.8,271.6h.7M163.9,255.8h.7M157.7,256.2h.7M161.6,261.7h.7M183.9,269.0h.7M168.4,252.5h.7M158.0,258.5h.7M164.3,250.6h.7M174.3,255.8h.7M170.5,236.3h.7M163.0,265.1h.7M164.3,268.6h.7M165.0,263.8h.7M165.2,259.9h.7M157.3,255.6h.7M175.9,281.0h.7M162.6,276.2h.7M151.9,240.7h.7M159.6,252.4h.7M159.1,264.1h.7M184.2,254.7h.7M163.3,265.0h.7M162.8,272.2h.7M175.4,248.3h.7M164.1,259.1h.7M165.5,245.2h.7M166.7,264.1h.7M163.5,236.0h.7M160.4,253.7h.7M153.1,251.9h.7M167.9,268.0h.7M162.8,267.7h.7M158.8,262.8h.7M163.3,268.1h.7M162.5,260.4h.7M162.1,254.9h.7M178.6,267.7h.7M172.8,244.9h.7M167.9,271.2h.7M176.2,276.5h.7M168.4,249.1h.7M156.9,265.0h.7M166.5,250.8h.7M160.3,257.6h.7M163.4,265.7h.7M161.0,248.4h.7M171.7,279.6h.7M162.3,273.3h.7M166.1,269.3h.7M166.4,253.6h.7M167.0,273.1h.7M177.6,282.1h.7M176.9,270.2h.7M160.6,255.4h.7M157.3,263.3h.7M162.8,269.4h.7M178.9,261.7h.7M167.7,267.2h.7M164.9,259.7h.7M162.1,252.9h.7M164.2,261.7h.7M165.2,252.6h.7M163.3,262.5h.7M167.2,250.3h.7M165.9,272.8h.7M167.2,257.9h.7M159.6,259.4h.7M168.1,279.1h.7M161.9,254.9h.7M165.6,264.2h.7M156.6,253.9h.7M162.3,269.4h.7M154.6,250.8h.7M166.5,248.5h.7M163.8,265.9h.7M162.2,250.8h.7M162.6,258.3h.7M165.4,252.8h.7M170.6,243.6h.7M161.8,262.1h.7M169.7,255.3h.7M166.8,255.8h.7M168.2,281.1h.7M160.2,266.9h.7M156.5,272.7h.7M171.5,262.4h.7M155.1,266.4h.7M171.0,274.0h.7M168.7,241.9h.7M158.2,277.6h.7M154.4,274.4h.7M176.2,270.4h.7M170.8,258.3h.7M154.4,260.9h.7M161.6,261.5h.7M167.9,260.4h.7M164.3,266.7h.7M163.0,282.3h.7M166.1,262.9h.7M161.5,255.1h.7M172.4,263.7h.7M155.4,255.8h.7M162.0,257.1h.7M170.6,249.2h.7M166.4,263.6h.7M154.8,262.5h.7M162.3,267.5h.7M159.8,265.3h.7M151.3,250.1h.7M168.5,273.5h.7M162.9,255.4h.7M170.6,239.0h.7M157.4,269.4h.7M167.6,250.6h.7M164.1,252.1h.7M163.4,271.9h.7M168.2,239.1h.7M168.4,242.4h.7M171.0,266.4h.7M178.8,255.3h.7M163.0,273.5h.7M158.5,254.2h.7M160.4,261.2h.7M155.4,267.3h.7M166.8,262.8h.7M174.9,258.4h.7M172.1,256.0h.7M168.3,240.7h.7M164.4,260.1h.7M159.5,255.3h.7M160.6,254.1h.7M159.2,256.2h.7M155.6,260.5h.7M168.5,259.2h.7M159.6,276.9h.7M169.8,272.1h.7M171.1,258.4h.7M162.1,274.2h.7M159.1,260.7h.7M165.6,266.1h.7M161.1,272.8h.7M161.8,270.0h.7M170.5,269.3h.7M168.1,249.2h.7M153.8,255.2h.7M166.3,278.5h.7M154.4,265.4h.7M157.0,253.9h.7M161.1,269.6h.7M164.5,275.0h.7M156.1,271.8h.7M169.5,262.8h.7M166.3,255.8h.7M155.4,257.5h.7M159.6,280.2h.7M164.4,265.4h.7M168.2,253.4h.7M169.4,266.1h.7M152.4,268.6h.7M166.9,267.0h.7M174.1,257.4h.7M166.6,270.2h.7M156.7,275.2h.7M152.8,247.7h.7M166.7,250.0h.7M162.2,243.9h.7M163.5,249.5h.7M165.4,245.1h.7M166.1,259.1h.7M163.4,261.3h.7M163.9,247.5h.7M156.4,257.0h.7M166.0,240.2h.7M157.7,255.3h.7M155.6,265.6h.7M162.0,253.0h.7M156.1,270.9h.7M158.4,268.4h.7M166.1,241.2h.7M155.4,262.0h.7M165.4,270.6h.7M168.6,273.4h.7M160.4,259.7h.7M168.4,257.3h.7M170.4,244.5h.7M167.6,260.1h.7M165.2,262.2h.7M155.5,256.9h.7M173.6,252.9h.7M154.6,260.5h.7M160.2,252.0h.7M157.1,273.5h.7M152.9,283.5h.7M159.2,250.0h.7M168.5,268.2h.7M155.7,270.2h.7M170.9,259.2h.7M153.9,267.7h.7M169.4,261.8h.7M165.9,270.5h.7M176.0,259.2h.7M159.6,261.6h.7M171.4,251.6h.7M172.1,231.8h.7M168.6,254.6h.7M166.2,269.6h.7M154.7,261.0h.7M164.7,268.5h.7M156.5,251.1h.7M161.7,259.6h.7M152.5,272.2h.7M157.3,281.2h.7M164.3,274.1h.7M163.6,268.4h.7M158.4,271.1h.7M153.7,274.1h.7M159.3,281.2h.7M155.4,271.7h.7M162.1,276.0h.7M160.1,271.6h.7M162.5,275.8h.7M153.1,268.1h.7M160.7,274.3h.7M160.6,269.6h.7M159.0,269.4h.7M161.9,277.4h.7M168.8,280.3h.7M156.0,271.7h.7M155.3,275.5h.7M169.9,277.5h.7M153.5,276.6h.7M160.0,275.5h.7M168.9,269.9h.7M161.7,270.1h.7M160.2,279.0h.7M159.3,270.5h.7M156.3,283.5h.7M151.2,274.9h.7M160.1,277.1h.7M158.0,276.5h.7M164.1,273.3h.7M157.7,273.1h.7M155.2,273.0h.7M158.5,275.1h.7M166.7,280.5h.7M157.8,277.0h.7M161.5,277.8h.7M160.1,275.3h.7M157.7,270.1h.7M164.4,280.5h.7M163.3,276.2h.7M161.3,271.7h.7M151.1,277.3h.7M161.0,271.2h.7M155.2,280.4h.7M151.0,282.8h.7M156.4,273.9h.7M157.5,274.8h.7M159.0,270.3h.7M165.4,270.1h.7M157.5,276.8h.7M157.3,271.8h.7M161.8,272.2h.7M153.8,273.5h.7M168.7,261.6h.7M163.4,255.8h.7M165.3,245.2h.7M168.0,250.2h.7M175.2,262.0h.7M166.2,258.6h.7M176.0,254.5h.7M165.4,255.2h.7M169.4,250.8h.7M168.4,253.3h.7M176.7,257.0h.7M168.8,256.0h.7M178.7,240.5h.7M178.8,237.3h.7M173.3,252.8h.7M178.9,250.2h.7M167.1,241.6h.7M162.5,254.1h.7M168.6,242.3h.7M173.2,241.9h.7M167.4,244.3h.7M179.9,259.7h.7M169.1,235.4h.7M171.7,248.6h.7M172.1,252.5h.7M168.1,255.4h.7M175.0,249.7h.7M167.6,244.2h.7M174.2,239.2h.7M169.0,242.0h.7M161.6,252.8h.7M169.8,248.3h.7M175.2,236.0h.7M169.6,250.3h.7M175.0,239.3h.7M174.3,249.8h.7M178.1,257.1h.7M173.3,265.2h.7M170.0,244.6h.7M168.0,240.5h.7M169.8,233.0h.7M169.5,251.4h.7M175.9,245.2h.7M178.3,242.8h.7M169.2,233.0h.7M165.4,241.7h.7M178.8,252.1h.7M163.5,252.2h.7M172.8,246.2h.7M170.1,245.6h.7M166.8,234.2h.7M169.5,258.0h.7M178.4,245.8h.7M165.6,246.3h.7M175.3,250.7h.7M166.6,250.8h.7M168.8,252.0h.7M167.6,236.5h.7M170.3,253.9h.7M163.5,247.2h.7M190.4,239.7h.7M184.5,260.8h.7M190.2,252.0h.7M183.3,257.3h.7M180.5,238.5h.7M189.9,254.7h.7M183.4,237.2h.7M187.8,226.1h.7M189.5,247.9h.7M185.3,247.7h.7M190.0,245.7h.7M189.0,256.2h.7M185.1,244.4h.7M185.0,252.0h.7M185.4,247.1h.7M187.5,243.6h.7M193.7,242.3h.7M192.5,250.2h.7M192.1,241.6h.7M190.6,249.6h.7M184.6,245.3h.7M186.5,242.7h.7M192.0,236.7h.7M180.5,227.9h.7M185.3,237.4h.7M187.1,247.9h.7M193.8,245.7h.7M188.8,236.6h.7M189.2,254.8h.7M192.2,226.0h.7M190.4,256.7h.7M190.2,230.0h.7M185.8,248.1h.7M188.6,236.0h.7M183.6,251.4h.7M181.9,255.4h.7M187.1,245.6h.7M181.9,237.8h.7M189.7,230.3h.7M195.0,230.8h.7M182.3,243.4h.7M188.9,249.3h.7M185.6,241.2h.7M186.1,238.0h.7M177.1,251.3h.7M188.0,244.4h.7M184.6,245.2h.7M186.9,242.3h.7M191.2,228.1h.7M188.0,233.8h.7M185.8,256.0h.7M182.8,242.1h.7M184.7,251.2h.7M183.2,228.5h.7M189.0,239.9h.7M185.8,252.3h.7M183.6,239.8h.7M187.6,246.6h.7M185.0,251.9h.7M195.6,239.5h.7M194.2,224.8h.7M192.4,240.0h.7M187.5,240.1h.7M184.6,232.0h.7M185.5,254.2h.7M191.4,240.0h.7M185.0,236.9h.7M182.4,258.6h.7M189.5,244.0h.7M185.1,234.2h.7M192.1,249.7h.7M183.3,251.5h.7M182.7,248.5h.7M183.3,239.4h.7M188.9,246.7h.7M190.9,235.8h.7M193.1,254.6h.7M187.0,247.0h.7M184.0,241.7h.7M181.9,243.8h.7M187.8,254.6h.7M190.6,250.0h.7M185.6,241.1h.7M185.7,244.9h.7M179.6,249.7h.7M181.0,238.5h.7M187.1,238.6h.7M193.4,242.2h.7M193.0,253.1h.7M185.1,246.5h.7M192.0,240.1h.7M187.3,238.2h.7M187.2,239.9h.7M187.3,251.7h.7M192.3,244.2h.7M187.8,250.4h.7M185.9,233.9h.7M191.3,234.9h.7M190.6,234.7h.7M194.0,234.0h.7M190.3,256.0h.7M183.3,255.8h.7M183.8,227.8h.7M189.8,249.1h.7M186.2,221.2h.7M186.8,240.4h.7M185.5,240.5h.7M180.1,238.1h.7M193.9,256.4h.7M185.6,236.8h.7M188.5,252.2h.7M189.8,232.9h.7M187.6,244.2h.7M192.5,253.3h.7M189.0,253.5h.7M185.5,256.3h.7M185.4,246.4h.7M190.5,235.1h.7M184.3,227.8h.7M187.6,242.5h.7M185.7,247.3h.7M178.9,242.8h.7M187.3,240.7h.7M190.0,258.1h.7M185.3,234.9h.7M184.7,243.8h.7M189.3,235.6h.7M190.8,234.1h.7M190.2,246.7h.7M188.8,261.6h.7M186.0,241.6h.7M188.8,250.5h.7M181.9,245.4h.7M184.2,248.4h.7M192.3,243.4h.7M186.6,244.6h.7M175.7,249.7h.7M189.2,244.4h.7M185.5,236.7h.7M186.3,253.5h.7M186.6,254.6h.7M177.1,239.0h.7M188.1,242.9h.7M180.6,237.3h.7M191.8,231.8h.7M183.2,233.5h.7M184.9,248.6h.7M189.3,225.5h.7M192.6,237.9h.7M184.7,257.4h.7M186.7,232.3h.7M184.5,236.7h.7M183.1,240.1h.7M190.4,246.0h.7M181.7,267.1h.7M183.2,244.0h.7M187.1,249.6h.7M185.7,246.9h.7M195.1,243.8h.7M182.8,245.8h.7M183.9,239.8h.7M187.7,245.9h.7M185.9,250.3h.7M186.3,231.7h.7M190.4,239.9h.7M191.7,237.3h.7M189.2,245.7h.7M176.6,230.1h.7M182.7,255.2h.7M179.7,250.9h.7M191.2,247.3h.7M189.6,238.7h.7M187.0,244.9h.7M188.6,249.1h.7M186.2,236.9h.7M184.8,246.6h.7M180.6,232.2h.7M185.4,238.2h.7M186.0,220.0h.7M185.7,240.8h.7M190.0,225.9h.7M185.8,247.1h.7M188.9,253.3h.7M191.1,233.9h.7M189.4,240.1h.7M183.9,256.3h.7M184.6,235.6h.7M185.4,235.6h.7M190.9,246.3h.7M192.4,246.6h.7M184.6,252.1h.7M184.5,239.0h.7M186.4,243.3h.7M191.6,237.8h.7M188.4,242.8h.7M182.2,233.5h.7M186.2,246.5h.7M188.2,247.2h.7M187.2,239.1h.7M188.6,234.3h.7M180.9,219.7h.7M180.4,219.0h.7M185.0,218.9h.7M189.7,217.9h.7M187.1,214.4h.7M191.0,217.6h.7M184.6,221.9h.7M173.5,219.6h.7M190.6,221.4h.7M179.9,221.9h.7M191.0,217.2h.7M195.0,220.8h.7M190.1,219.3h.7M193.7,221.4h.7M197.7,222.7h.7M185.8,220.1h.7M196.2,219.6h.7M192.6,223.0h.7M188.8,212.0h.7M190.9,221.8h.7M190.9,218.1h.7M198.2,220.5h.7M185.8,218.2h.7M192.4,216.8h.7M183.2,228.7h.7M198.9,225.1h.7M199.2,223.3h.7M178.6,225.6h.7M198.4,222.9h.7M176.7,225.8h.7M199.3,219.1h.7M190.9,224.0h.7M189.4,225.3h.7M190.6,223.7h.7M190.6,215.3h.7M183.3,233.3h.7M191.9,226.1h.7M197.7,227.6h.7M193.8,218.7h.7M190.1,213.6h.7M188.7,224.5h.7M175.3,221.8h.7M195.6,226.2h.7M183.7,218.5h.7M177.3,217.0h.7M193.6,229.0h.7M182.2,226.4h.7M192.9,219.1h.7M204.9,211.2h.7M189.5,221.9h.7M204.5,228.0h.7M205.4,221.5h.7M196.7,226.3h.7M193.5,222.4h.7M188.8,219.4h.7M181.6,228.6h.7M187.0,212.9h.7M191.8,220.9h.7M191.2,228.1h.7M189.3,220.0h.7M184.9,220.9h.7M187.0,221.8h.7M211.3,222.5h.7M184.2,228.5h.7M195.9,224.2h.7M194.9,224.2h.7M194.6,226.5h.7M196.9,226.2h.7M186.6,221.0h.7M189.6,265.3h.7M203.3,251.5h.7M201.1,281.6h.7M206.8,245.1h.7M195.2,262.2h.7M195.7,259.8h.7M206.3,259.2h.7M186.4,263.0h.7M195.1,257.1h.7M191.0,242.5h.7M185.1,252.6h.7M186.6,229.6h.7M206.1,244.7h.7M189.6,261.2h.7M174.9,269.1h.7M189.3,262.4h.7M191.8,259.0h.7M196.9,256.0h.7M180.0,241.7h.7M195.6,269.7h.7M191.2,261.2h.7M197.4,260.7h.7M204.7,241.4h.7M198.4,254.3h.7M193.3,247.7h.7M189.1,246.0h.7M186.4,280.5h.7M210.9,256.1h.7M202.5,246.5h.7M171.6,238.2h.7M197.2,270.0h.7M195.6,246.2h.7M193.9,246.3h.7M183.8,253.7h.7M192.5,248.1h.7M188.2,246.9h.7M198.1,269.6h.7M194.2,277.8h.7M181.8,258.7h.7M185.9,254.4h.7M196.9,261.4h.7M205.9,250.6h.7M185.1,254.2h.7M198.6,249.2h.7M203.8,272.4h.7M183.5,259.5h.7M204.9,237.3h.7M197.8,253.8h.7M183.5,268.8h.7M197.9,251.3h.7M199.9,262.3h.7M202.7,261.7h.7M199.6,244.5h.7M192.3,257.3h.7M171.7,276.8h.7M192.7,245.7h.7M180.0,258.4h.7M196.3,250.3h.7M192.3,247.3h.7M189.4,255.0h.7M190.4,262.6h.7M194.7,257.3h.7M199.6,268.4h.7M201.3,258.2h.7M194.6,248.1h.7M193.0,262.7h.7M198.0,252.2h.7M184.3,241.1h.7M198.8,266.0h.7M199.3,242.6h.7M164.5,222.9h.7M159.7,223.4h.7M164.6,218.7h.7M157.5,225.2h.7M168.4,218.5h.7M159.1,225.5h.7M170.1,220.8h.7M176.9,220.9h.7M158.8,226.3h.7M164.7,223.3h.7M166.3,218.1h.7M157.9,221.2h.7M175.6,218.1h.7M175.3,222.9h.7M158.4,223.0h.7M169.9,218.5h.7M151.5,223.4h.7M158.4,223.7h.7M153.0,221.4h.7M160.5,216.2h.7M164.4,222.7h.7M162.2,217.4h.7M167.4,215.2h.7M169.6,223.9h.7M177.4,225.4h.7" stroke="#777" stroke-width="0.7" fill="none" opacity="0.5"/>
<text x="200.4" y="265.8" font-size="7.3" font-weight="normal" text-anchor="start" fill="#555" font-style="italic" stroke="#555" stroke-width="0.28">35%</text>
<text x="152.10000000000002" y="215" font-size="4.0" font-weight="bold" text-anchor="start" fill="#333">5.02%</text>
<text x="237.9" y="215" font-size="4.0" font-weight="bold" text-anchor="end" fill="#333">13.4%</text>
<text x="152.10000000000002" y="283.3" font-size="4.0" font-weight="bold" text-anchor="start" fill="#333">44.7%</text>
<text x="237.9" y="283.3" font-size="4.0" font-weight="bold" text-anchor="end" fill="#333">35.5%</text>
<text x="158" y="293.40000000000003" font-size="4.5" font-weight="bold" text-anchor="middle" fill="#333">0</text>
<line x1="158" y1="284.6" x2="158" y2="286.20000000000005" stroke="#333" stroke-width="0.7"/>
<text x="169" y="293.40000000000003" font-size="4.5" font-weight="bold" text-anchor="middle" fill="#333">10<tspan dy="-2" font-size="3">2</tspan></text>
<line x1="169" y1="284.6" x2="169" y2="286.20000000000005" stroke="#333" stroke-width="0.7"/>
<text x="190" y="293.40000000000003" font-size="4.5" font-weight="bold" text-anchor="middle" fill="#333">10<tspan dy="-2" font-size="3">3</tspan></text>
<line x1="190" y1="284.6" x2="190" y2="286.20000000000005" stroke="#333" stroke-width="0.7"/>
<text x="209.4" y="293.40000000000003" font-size="4.5" font-weight="bold" text-anchor="middle" fill="#333">10<tspan dy="-2" font-size="3">4</tspan></text>
<line x1="209.4" y1="284.6" x2="209.4" y2="286.20000000000005" stroke="#333" stroke-width="0.7"/>
<text x="227.6" y="293.40000000000003" font-size="4.5" font-weight="bold" text-anchor="middle" fill="#333">10<tspan dy="-2" font-size="3">5</tspan></text>
<line x1="227.6" y1="284.6" x2="227.6" y2="286.20000000000005" stroke="#333" stroke-width="0.7"/>
<text x="146.60000000000002" y="218.9" font-size="4.5" font-weight="bold" text-anchor="end" fill="#333">10<tspan dy="-2" font-size="3">5</tspan></text>
<line x1="148.20000000000002" y1="217" x2="149.8" y2="217" stroke="#333" stroke-width="0.7"/>
<text x="146.60000000000002" y="234.9" font-size="4.5" font-weight="bold" text-anchor="end" fill="#333">10<tspan dy="-2" font-size="3">4</tspan></text>
<line x1="148.20000000000002" y1="233" x2="149.8" y2="233" stroke="#333" stroke-width="0.7"/>
<text x="146.60000000000002" y="252.9" font-size="4.5" font-weight="bold" text-anchor="end" fill="#333">10<tspan dy="-2" font-size="3">3</tspan></text>
<line x1="148.20000000000002" y1="251" x2="149.8" y2="251" stroke="#333" stroke-width="0.7"/>
<text x="146.60000000000002" y="269.9" font-size="4.5" font-weight="bold" text-anchor="end" fill="#333">10<tspan dy="-2" font-size="3">2</tspan></text>
<line x1="148.20000000000002" y1="268" x2="149.8" y2="268" stroke="#333" stroke-width="0.7"/>
<text x="145.3" y="279.4" font-size="4.5" font-weight="bold" text-anchor="end" fill="#333">0</text>
<line x1="148.20000000000002" y1="277.5" x2="149.8" y2="277.5" stroke="#333" stroke-width="0.7"/>
<path d="M175.3,284.6v1M179.0,284.6v1M181.6,284.6v1M183.7,284.6v1M185.3,284.6v1M186.7,284.6v1M188.0,284.6v1M189.0,284.6v1M195.8,284.6v1M199.3,284.6v1M201.7,284.6v1M203.6,284.6v1M205.1,284.6v1M206.4,284.6v1M207.5,284.6v1M208.5,284.6v1M214.9,284.6v1M218.1,284.6v1M220.4,284.6v1M222.1,284.6v1M223.6,284.6v1M224.8,284.6v1M225.8,284.6v1M226.8,284.6v1M149.8,228.2h-1M149.8,225.4h-1M149.8,223.4h-1M149.8,221.8h-1M149.8,220.5h-1M149.8,219.5h-1M149.8,218.6h-1M149.8,217.7h-1M149.8,245.6h-1M149.8,242.4h-1M149.8,240.2h-1M149.8,238.4h-1M149.8,237.0h-1M149.8,235.8h-1M149.8,234.7h-1M149.8,233.8h-1M149.8,262.9h-1M149.8,259.9h-1M149.8,257.8h-1M149.8,256.1h-1M149.8,254.8h-1M149.8,253.6h-1M149.8,252.6h-1M149.8,251.8h-1" stroke="#444" stroke-width="0.5" fill="none"/>
<line x1="349" y1="245.75" x2="349" y2="241.25" stroke="#000" stroke-width="1.5"/>
<line x1="335.5" y1="241.25" x2="362.5" y2="241.25" stroke="#000" stroke-width="1.5"/>
<line x1="426.25" y1="212" x2="426.25" y2="203.75" stroke="#000" stroke-width="1.5"/>
<line x1="412.5" y1="203.75" x2="440.0" y2="203.75" stroke="#000" stroke-width="1.5"/>
<path d="M309.8,193.8 V296.8 H465" fill="none" stroke="#000" stroke-width="1.7"/>
<line x1="306.8" y1="296.8" x2="309.8" y2="296.8" stroke="#000" stroke-width="1.3"/>
<text x="305.8" y="300.1" font-size="7.8" font-weight="bold" text-anchor="end" fill="#000" stroke="#000" stroke-width="0.22">0</text>
<line x1="306.8" y1="271.05" x2="309.8" y2="271.05" stroke="#000" stroke-width="1.3"/>
<text x="305.8" y="274.35" font-size="7.8" font-weight="bold" text-anchor="end" fill="#000" stroke="#000" stroke-width="0.22">10</text>
<line x1="306.8" y1="245.3" x2="309.8" y2="245.3" stroke="#000" stroke-width="1.3"/>
<text x="305.8" y="248.60000000000002" font-size="7.8" font-weight="bold" text-anchor="end" fill="#000" stroke="#000" stroke-width="0.22">20</text>
<line x1="306.8" y1="219.55" x2="309.8" y2="219.55" stroke="#000" stroke-width="1.3"/>
<text x="305.8" y="222.85000000000002" font-size="7.8" font-weight="bold" text-anchor="end" fill="#000" stroke="#000" stroke-width="0.22">30</text>
<line x1="306.8" y1="193.8" x2="309.8" y2="193.8" stroke="#000" stroke-width="1.3"/>
<text x="305.8" y="197.10000000000002" font-size="7.8" font-weight="bold" text-anchor="end" fill="#000" stroke="#000" stroke-width="0.22">40</text>
<line x1="349" y1="296.8" x2="349" y2="300.2" stroke="#000" stroke-width="1.3"/>
<line x1="426.25" y1="296.8" x2="426.25" y2="300.2" stroke="#000" stroke-width="1.3"/>
<text x="281.6" y="244" font-size="8.51" font-weight="bold" text-anchor="middle" fill="#000" stroke="#000" stroke-width="0.22" transform="rotate(-90 281.6 244)">Apoptotic HSCs following irradiation (%)</text>
<text x="352.5" y="308.9" font-size="8.4" font-weight="bold" text-anchor="end" fill="#000" stroke="#000" stroke-width="0.22" transform="rotate(-45 352.5 308.9)">WT</text>
<text x="428.5" y="309" font-size="8.0" font-weight="bold" text-anchor="end" fill="#000" stroke="#000" stroke-width="0.22" transform="rotate(-45 428.5 309)">Ndn null</text>
<text x="455.5" y="333.5" font-size="10" font-weight="normal" text-anchor="start" fill="#000" stroke="#000" stroke-width="0.15">p=0.0098</text>
<text x="3.5" y="353.0" font-size="13.8" font-weight="bold" text-anchor="start" fill="#000" stroke="#000" stroke-width="0.22">D</text>
<path d="M43.2,365.6 V490.6 H231.25" fill="none" stroke="#000" stroke-width="1.7"/>
<line x1="39.400000000000006" y1="490.6" x2="43.2" y2="490.6" stroke="#000" stroke-width="1.3"/>
<text x="38.0" y="494.20000000000005" font-size="9.0" font-weight="bold" text-anchor="end" fill="#000" stroke="#000" stroke-width="0.22">0</text>
<line x1="39.400000000000006" y1="465.6" x2="43.2" y2="465.6" stroke="#000" stroke-width="1.3"/>
<text x="38.0" y="469.20000000000005" font-size="9.0" font-weight="bold" text-anchor="end" fill="#000" stroke="#000" stroke-width="0.22">10</text>
<line x1="39.400000000000006" y1="440.6" x2="43.2" y2="440.6" stroke="#000" stroke-width="1.3"/>
<text x="38.0" y="444.20000000000005" font-size="9.0" font-weight="bold" text-anchor="end" fill="#000" stroke="#000" stroke-width="0.22">20</text>
<line x1="39.400000000000006" y1="415.6" x2="43.2" y2="415.6" stroke="#000" stroke-width="1.3"/>
<text x="38.0" y="419.20000000000005" font-size="9.0" font-weight="bold" text-anchor="end" fill="#000" stroke="#000" stroke-width="0.22">30</text>
<line x1="39.400000000000006" y1="390.6" x2="43.2" y2="390.6" stroke="#000" stroke-width="1.3"/>
<text x="38.0" y="394.20000000000005" font-size="9.0" font-weight="bold" text-anchor="end" fill="#000" stroke="#000" stroke-width="0.22">40</text>
<line x1="39.400000000000006" y1="365.6" x2="43.2" y2="365.6" stroke="#000" stroke-width="1.3"/>
<text x="38.0" y="369.20000000000005" font-size="9.0" font-weight="bold" text-anchor="end" fill="#000" stroke="#000" stroke-width="0.22">50</text>
<line x1="90" y1="490.6" x2="90" y2="494.0" stroke="#000" stroke-width="1.3"/>
<line x1="183.75" y1="490.6" x2="183.75" y2="494.0" stroke="#000" stroke-width="1.3"/>
<text x="11.7" y="427.4" font-size="10.5" font-weight="bold" text-anchor="middle" fill="#000" stroke="#000" stroke-width="0.22" transform="rotate(-90 11.7 427.4)" xml:space="preserve">HSCs in  G0 (%)</text>
<circle cx="90" cy="368.25" r="2.5" fill="#000"/>
<circle cx="90" cy="385" r="2.5" fill="#000"/>
<circle cx="89.5" cy="402" r="2.5" fill="#000"/>
<circle cx="93.75" cy="404.5" r="2.5" fill="#000"/>
<circle cx="86" cy="410.5" r="2.5" fill="#000"/>
<line x1="58.2" y1="394.4" x2="121.75" y2="394.4" stroke="#000" stroke-width="1.5"/>
<line x1="73.75" y1="386.4" x2="106.25" y2="386.4" stroke="#000" stroke-width="1.5"/>
<line x1="73.75" y1="401.8" x2="106.25" y2="401.8" stroke="#000" stroke-width="1.5"/>
<line x1="90" y1="386.4" x2="90" y2="401.8" stroke="#000" stroke-width="1.5"/>
<rect x="181.45" y="378.2" width="4.6" height="4.6" fill="#000"/>
<rect x="177.7" y="391.95" width="4.6" height="4.6" fill="#000"/>
<rect x="185.2" y="390.2" width="4.6" height="4.6" fill="#000"/>
<rect x="181.45" y="400.95" width="4.6" height="4.6" fill="#000"/>
<rect x="181.45" y="413.45" width="4.6" height="4.6" fill="#000"/>
<line x1="152" y1="397" x2="215.75" y2="397" stroke="#000" stroke-width="1.5"/>
<line x1="167.5" y1="391.25" x2="199.5" y2="391.25" stroke="#000" stroke-width="1.5"/>
<line x1="167.5" y1="402.75" x2="199.5" y2="402.75" stroke="#000" stroke-width="1.5"/>
<line x1="183.75" y1="391.25" x2="183.75" y2="402.75" stroke="#000" stroke-width="1.5"/>
<text x="92" y="503.5" font-size="9.0" font-weight="bold" text-anchor="end" fill="#000" stroke="#000" stroke-width="0.22" transform="rotate(-45 92 503.5)">WT</text>
<text x="186.6" y="503.3" font-size="9.0" font-weight="bold" text-anchor="end" fill="#000" stroke="#000" stroke-width="0.22" transform="rotate(-45 186.6 503.3)">Ndn null</text>
<text x="202" y="520" font-size="12" font-weight="normal" text-anchor="start" fill="#000" stroke="#000" stroke-width="0.15">p=0.75</text>
<text x="268.6" y="355.4" font-size="13.8" font-weight="bold" text-anchor="start" fill="#000" stroke="#000" stroke-width="0.22">E</text>
<line x1="367.5" y1="458" x2="367.5" y2="454" stroke="#000" stroke-width="1.2"/>
<line x1="353.75" y1="454" x2="381.25" y2="454" stroke="#000" stroke-width="1.2"/>
<line x1="449.75" y1="409.1" x2="449.75" y2="399.4" stroke="#000" stroke-width="1.2"/>
<line x1="435.75" y1="399.4" x2="463.75" y2="399.4" stroke="#000" stroke-width="1.2"/>
<path d="M326.6,377.9 V491.4 H490.75" fill="none" stroke="#000" stroke-width="1.9"/>
<line x1="322.6" y1="491.4" x2="326.6" y2="491.4" stroke="#000" stroke-width="1.4"/>
<text x="322.0" y="494.59999999999997" font-size="8.2" font-weight="normal" text-anchor="end" fill="#000" stroke="#000" stroke-width="0.15">0</text>
<line x1="322.6" y1="468.7" x2="326.6" y2="468.7" stroke="#000" stroke-width="1.4"/>
<text x="322.0" y="471.9" font-size="8.2" font-weight="normal" text-anchor="end" fill="#000" stroke="#000" stroke-width="0.15">2</text>
<line x1="322.6" y1="446.0" x2="326.6" y2="446.0" stroke="#000" stroke-width="1.4"/>
<text x="322.0" y="449.2" font-size="8.2" font-weight="normal" text-anchor="end" fill="#000" stroke="#000" stroke-width="0.15">4</text>
<line x1="322.6" y1="423.3" x2="326.6" y2="423.3" stroke="#000" stroke-width="1.4"/>
<text x="322.0" y="426.5" font-size="8.2" font-weight="normal" text-anchor="end" fill="#000" stroke="#000" stroke-width="0.15">6</text>
<line x1="322.6" y1="400.6" x2="326.6" y2="400.6" stroke="#000" stroke-width="1.4"/>
<text x="322.0" y="403.8" font-size="8.2" font-weight="normal" text-anchor="end" fill="#000" stroke="#000" stroke-width="0.15">8</text>
<line x1="322.6" y1="377.9" x2="326.6" y2="377.9" stroke="#000" stroke-width="1.4"/>
<text x="322.0" y="381.09999999999997" font-size="8.2" font-weight="normal" text-anchor="end" fill="#000" stroke="#000" stroke-width="0.15">10</text>
<line x1="367.5" y1="491.4" x2="367.5" y2="494.79999999999995" stroke="#000" stroke-width="1.3"/>
<line x1="449.75" y1="491.4" x2="449.75" y2="494.79999999999995" stroke="#000" stroke-width="1.3"/>
<text x="299.9" y="433" font-size="9.5" font-weight="normal" text-anchor="middle" fill="#000" stroke="#000" stroke-width="0.15" transform="rotate(-90 299.9 433)">Apoptotic HSCs(%)</text>
<text x="370.2" y="502.6" font-size="8.0" font-weight="normal" text-anchor="end" fill="#000" stroke="#000" stroke-width="0.15" transform="rotate(-45 370.2 502.6)">WT</text>
<text x="452.2" y="502.6" font-size="8.0" font-weight="normal" text-anchor="end" fill="#000" stroke="#000" stroke-width="0.15" transform="rotate(-45 452.2 502.6)">Ndn null</text>
<text x="460.2" y="552.6" font-size="8.45" font-weight="normal" text-anchor="start" fill="#000" stroke="#000" stroke-width="0.15">*** p&lt;0.005</text>
<text x="7.1" y="531.0" font-size="13.8" font-weight="bold" text-anchor="start" fill="#000" stroke="#000" stroke-width="0.22">F</text>
<line x1="65.75" y1="595.5" x2="65.75" y2="592" stroke="#000" stroke-width="1.5"/>
<line x1="57.75" y1="592" x2="73.75" y2="592" stroke="#000" stroke-width="1.5"/>
<line x1="110" y1="554.25" x2="110" y2="549.25" stroke="#000" stroke-width="1.5"/>
<line x1="101.8" y1="549.25" x2="118.2" y2="549.25" stroke="#000" stroke-width="1.5"/>
<line x1="154.25" y1="613.75" x2="154.25" y2="611.75" stroke="#000" stroke-width="1.5"/>
<line x1="146.05" y1="611.75" x2="162.45" y2="611.75" stroke="#000" stroke-width="1.5"/>
<line x1="198.5" y1="584.5" x2="198.5" y2="583" stroke="#000" stroke-width="1.5"/>
<line x1="190.0" y1="583" x2="207.0" y2="583" stroke="#000" stroke-width="1.5"/>
<path d="M43.4,526.6 V644.8 H221.25" fill="none" stroke="#000" stroke-width="1.7"/>
<line x1="40.0" y1="644.8" x2="43.4" y2="644.8" stroke="#000" stroke-width="1.3"/>
<text x="38.699999999999996" y="648.3" font-size="8.2" font-weight="bold" text-anchor="end" fill="#000" stroke="#000" stroke-width="0.22">0</text>
<line x1="40.0" y1="615.25" x2="43.4" y2="615.25" stroke="#000" stroke-width="1.3"/>
<text x="38.699999999999996" y="618.75" font-size="8.2" font-weight="bold" text-anchor="end" fill="#000" stroke="#000" stroke-width="0.22">10</text>
<line x1="40.0" y1="585.7" x2="43.4" y2="585.7" stroke="#000" stroke-width="1.3"/>
<text x="38.699999999999996" y="589.2" font-size="8.2" font-weight="bold" text-anchor="end" fill="#000" stroke="#000" stroke-width="0.22">20</text>
<line x1="40.0" y1="556.15" x2="43.4" y2="556.15" stroke="#000" stroke-width="1.3"/>
<text x="38.699999999999996" y="559.65" font-size="8.2" font-weight="bold" text-anchor="end" fill="#000" stroke="#000" stroke-width="0.22">30</text>
<line x1="40.0" y1="526.6" x2="43.4" y2="526.6" stroke="#000" stroke-width="1.3"/>
<text x="38.699999999999996" y="530.1" font-size="8.2" font-weight="bold" text-anchor="end" fill="#000" stroke="#000" stroke-width="0.22">40</text>
<line x1="66" y1="644.8" x2="66" y2="648.1999999999999" stroke="#000" stroke-width="1.3"/>
<line x1="110" y1="644.8" x2="110" y2="648.1999999999999" stroke="#000" stroke-width="1.3"/>
<line x1="154" y1="644.8" x2="154" y2="648.1999999999999" stroke="#000" stroke-width="1.3"/>
<line x1="198.4" y1="644.8" x2="198.4" y2="648.1999999999999" stroke="#000" stroke-width="1.3"/>
<text x="13.5" y="586" font-size="9.7" font-weight="bold" text-anchor="middle" fill="#000" stroke="#000" stroke-width="0.22" transform="rotate(-90 13.5 586)">Apoptotic cells (%)</text>
<text x="68.5" y="657.8" font-size="9.0" font-weight="bold" text-anchor="end" fill="#000" stroke="#000" stroke-width="0.22" transform="rotate(-45 68.5 657.8)">WT</text>
<text x="112.5" y="657.8" font-size="9.0" font-weight="bold" text-anchor="end" fill="#000" stroke="#000" stroke-width="0.22" transform="rotate(-45 112.5 657.8)">Ndn null</text>
<text x="157.3" y="657.8" font-size="9.0" font-weight="bold" text-anchor="end" fill="#000" stroke="#000" stroke-width="0.22" transform="rotate(-45 157.3 657.8)">p53 null</text>
<text x="201.2" y="657.8" font-size="9.0" font-weight="bold" text-anchor="end" fill="#000" stroke="#000" stroke-width="0.22" transform="rotate(-45 201.2 657.8)">p53 Ndn null</text>
</g>
</svg>
</body></html>
